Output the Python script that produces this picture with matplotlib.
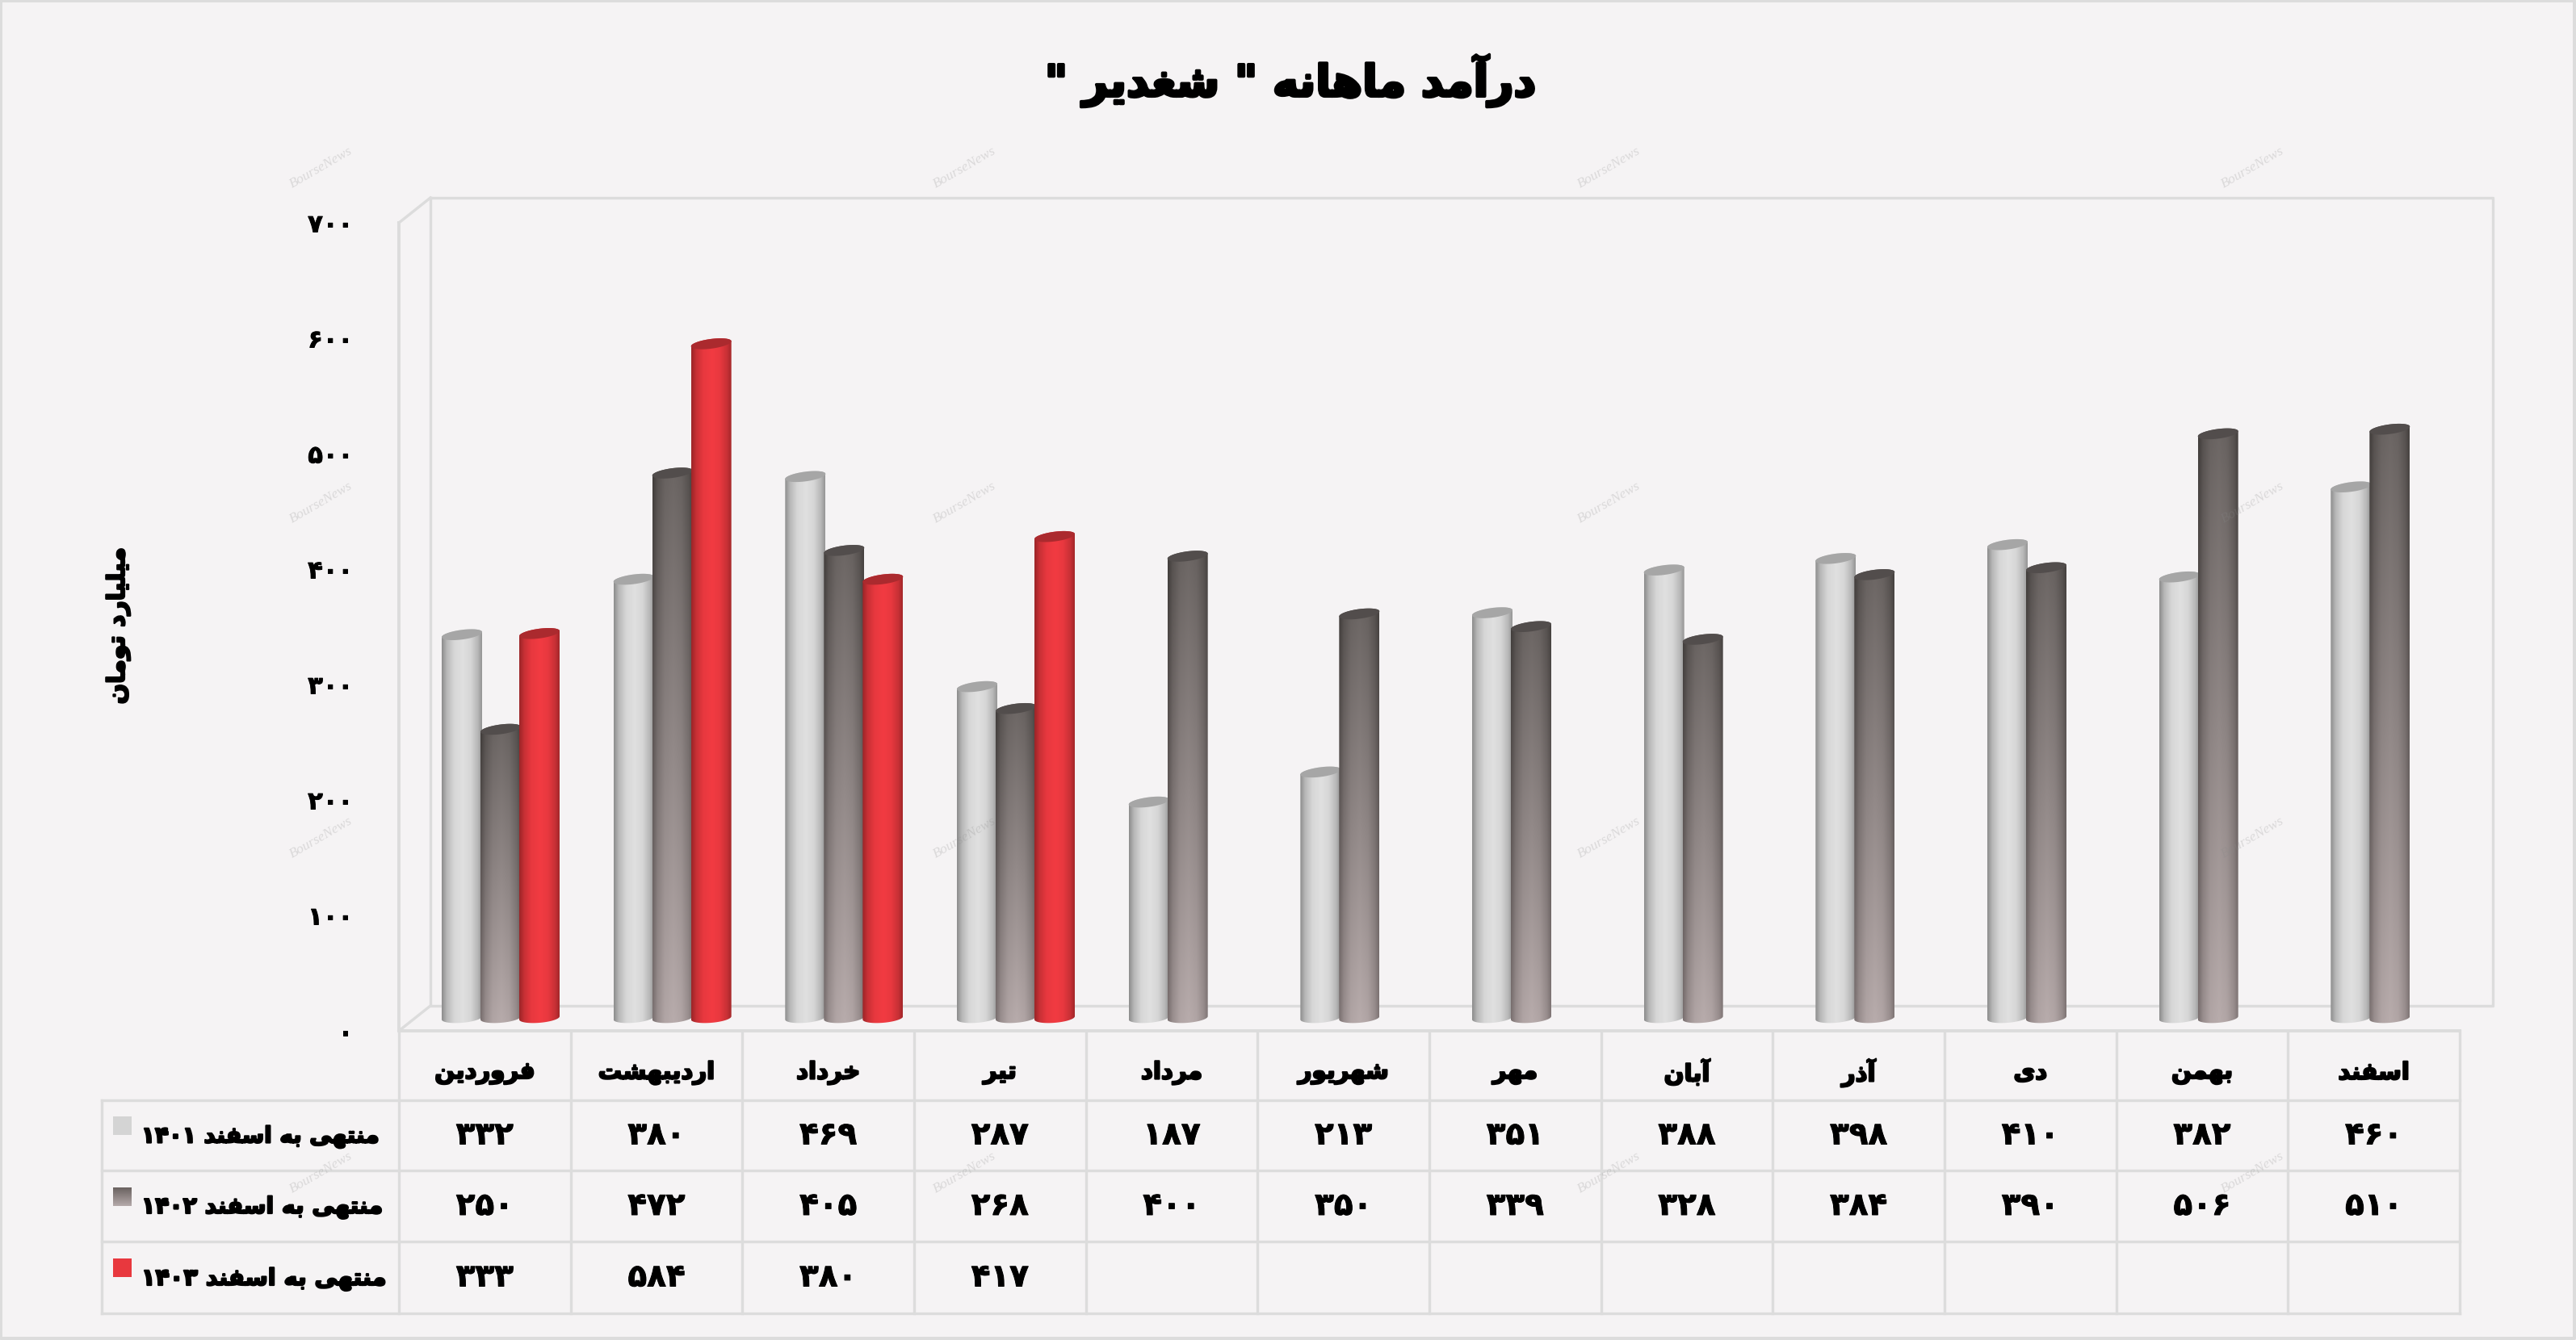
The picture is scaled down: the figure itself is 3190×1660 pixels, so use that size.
import numpy as np
import matplotlib
matplotlib.use("Agg")
import matplotlib.pyplot as plt
import matplotlib.patheffects as pe
from matplotlib.patches import PathPatch, Polygon
from matplotlib.path import Path

W, H = 3190, 1660
BG = "#f5f3f4"
LINE = "#dcdcdc"

months = ["فروردین", "اردیبهشت", "خرداد", "تیر", "مرداد", "شهریور",
          "مهر", "آبان", "آذر", "دی", "بهمن", "اسفند"]
series_names = ["منتهی به اسفند ۱۴۰۱", "منتهی به اسفند ۱۴۰۲", "منتهی به اسفند ۱۴۰۳"]
y1401 = [332, 380, 469, 287, 187, 213, 351, 388, 398, 410, 382, 460]
y1402 = [250, 472, 405, 268, 400, 350, 339, 328, 384, 390, 506, 510]
y1403 = [333, 584, 380, 417]
yticks = [0, 100, 200, 300, 400, 500, 600, 700]
title = 'درآمد ماهانه " شغدیر "'
ylabel = "میلیارد تومان"

# (isolated, final, initial, medial) - matplotlib has no arabic shaping
FORMS = {
    "ا": (0xFE8D, 0xFE8E), "آ": (0xFE81, 0xFE82),
    "ب": (0xFE8F, 0xFE90, 0xFE91, 0xFE92), "ت": (0xFE95, 0xFE96, 0xFE97, 0xFE98),
    "خ": (0xFEA5, 0xFEA6, 0xFEA7, 0xFEA8), "د": (0xFEA9, 0xFEAA),
    "ذ": (0xFEAB, 0xFEAC), "ر": (0xFEAD, 0xFEAE),
    "س": (0xFEB1, 0xFEB2, 0xFEB3, 0xFEB4), "ش": (0xFEB5, 0xFEB6, 0xFEB7, 0xFEB8),
    "غ": (0xFECD, 0xFECE, 0xFECF, 0xFED0), "ف": (0xFED1, 0xFED2, 0xFED3, 0xFED4),
    "ل": (0xFEDD, 0xFEDE, 0xFEDF, 0xFEE0), "م": (0xFEE1, 0xFEE2, 0xFEE3, 0xFEE4),
    "ن": (0xFEE5, 0xFEE6, 0xFEE7, 0xFEE8), "ه": (0xFEE9, 0xFEEA, 0xFEEB, 0xFEEC),
    "و": (0xFEED, 0xFEEE), "ی": (0xFBFC, 0xFBFD, 0xFBFE, 0xFBFF),
}
DIGITS = "۰۱۲۳۴۵۶۷۸۹"


def fa(text):
    # logical persian -> presentation forms in visual order
    out = []
    for i, c in enumerate(text):
        if c not in FORMS:
            out.append(c)
            continue
        prev = text[i - 1] if i > 0 else ""
        nxt = text[i + 1] if i + 1 < len(text) else ""
        join_prev = prev in FORMS and len(FORMS[prev]) == 4
        join_next = nxt in FORMS and len(FORMS[c]) == 4
        f = FORMS[c]
        if join_prev and join_next:
            out.append(chr(f[3]))
        elif join_prev:
            out.append(chr(f[1]))
        elif join_next:
            out.append(chr(f[2]))
        else:
            out.append(chr(f[0]))
    s = "".join(out)[::-1]
    # digit runs keep their order
    res, run = [], []
    for c in s:
        if c in DIGITS:
            run.append(c)
        else:
            res.extend(run[::-1])
            run = []
            res.append(c)
    res.extend(run[::-1])
    return "".join(res)


def fa_num(n):
    return "".join(DIGITS[int(d)] for d in str(n))


plt.rcParams["font.family"] = ["DejaVu Sans"]
plt.rcParams["font.weight"] = "bold"
fat = [pe.withStroke(linewidth=1.6, foreground="black")]
# digits clog up with a heavy stroke, 3 and 4 turn into the same blob
fat_num = [pe.withStroke(linewidth=0.7, foreground="black")]

fig = plt.figure(figsize=(W / 100, H / 100), dpi=100, facecolor=BG)


def px_axes(x0, y_top, x1, y_bottom):
    return fig.add_axes([x0 / W, 1 - y_bottom / H, (x1 - x0) / W, (y_bottom - y_top) / H])


# overlay in pixel coords for frame, table, text
bg = px_axes(0, 0, W, H)
bg.set_xlim(0, W)
bg.set_ylim(H, 0)
bg.axis("off")


def seg(xs, ys, lw=3.4):
    bg.plot(xs, ys, color=LINE, lw=lw * 0.72, solid_capstyle="projecting", zorder=1)


# outer border
seg([1, W - 2, W - 2, 1, 1], [1, 1, H - 2, H - 2, 1], 4)

# 3d box
left, right = 494, 3046
bx0, bx1, by0, by1 = 533, 3087, 245, 1246
seg([bx0, bx1, bx1, bx0, bx0], [by0, by0, by1, by1, by0])
seg([left, left], [276, 1277], 4)
seg([left, bx0], [276, by0])
seg([left, bx0], [1277, by1])

# table
col_w = (right - left) / 12
rows = [1277, 1363, 1450, 1538, 1627]
seg([left, right], [1277, 1277], 4)
for r in rows[1:]:
    seg([126, right], [r, r])
seg([126, 126], [1363, 1627])
for i in range(13):
    seg([left + i * col_w] * 2, [1277, 1627])

# bars axis, value 0 is at y=1261, 1.43 px per unit
PX = 1.43
ymin, ymax = -30, 720
ax = px_axes(left, 1261 - ymax * PX, right, 1261 - ymin * PX)
ax.patch.set_alpha(0)
ax.axis("off")

slot = 48 / col_w
bar_w = 50 / col_w
first = (572 - left) / col_w
b, tilt = 4.2, 2.2

styles = [
    {"top": ((0x8e, 0x8e, 0x8e), (0xe0, 0xe0, 0xe0)), "bot": ((0x8e, 0x8e, 0x8e), (0xe0, 0xe0, 0xe0)), "cap": "#a6a6a6"},
    {"top": ((0x40, 0x3c, 0x3a), (0x6c, 0x66, 0x64)), "bot": ((0x7a, 0x70, 0x70), (0xb8, 0xac, 0xac)), "cap": "#524d4c"},
    {"top": ((0x9c, 0x25, 0x28), (0xf2, 0x3b, 0x42)), "bot": ((0x9c, 0x25, 0x28), (0xf2, 0x3b, 0x42)), "cap": "#ab2a2e"},
]


def cylinder(xc, val, st, z):
    a = bar_w / 2
    t = np.linspace(0, np.pi, 40)
    # top half of the top ellipse, bottom half of the foot, tilted up to the right
    top_x, top_y = xc + a * np.cos(t), val + b * np.sin(t) + tilt * np.cos(t)
    foot_x, foot_y = xc + a * np.cos(t[::-1]), -b * np.sin(t[::-1]) + 1.4 * np.cos(t[::-1])
    verts = np.r_[np.c_[top_x, top_y], np.c_[foot_x, foot_y], [[top_x[0], top_y[0]]]]
    clip = PathPatch(Path(verts), transform=ax.transData, fc="none", ec="none")
    ax.add_patch(clip)
    # horizontal shading of the cylinder, vertical fade along the bar
    u = np.linspace(0, 1, 60)
    shade = np.interp(u, [0, 0.12, 0.3, 0.52, 0.72, 0.9, 1], [0, 0.5, 0.88, 1, 0.88, 0.5, 0.1])
    v = np.linspace(0, 1, 64)[:, None, None]
    edge_t, mid_t = np.array(st["top"]), np.array(st["bot"])
    top_row = edge_t[0] + (edge_t[1] - edge_t[0]) * shade[:, None]
    bot_row = mid_t[0] + (mid_t[1] - mid_t[0]) * shade[:, None]
    img = (top_row[None, :, :] * (1 - v) + bot_row[None, :, :] * v) / 255
    im = ax.imshow(img, extent=(xc - a, xc + a, -8, val + 6), aspect="auto",
                   origin="upper", zorder=z, interpolation="bilinear")
    im.set_clip_path(clip)
    t2 = np.linspace(0, 2 * np.pi, 60)
    ax.add_patch(Polygon(np.c_[xc + a * np.cos(t2), val + b * np.sin(t2) + tilt * np.cos(t2)],
                         closed=True, fc=st["cap"], ec="none", zorder=z + 0.5))


for s, vals in enumerate([y1401, y1402, y1403]):
    for i, val in enumerate(vals):
        cylinder(i + first + s * slot, val, styles[s], 3 + s)

ax.set_xlim(0, 12)
ax.set_ylim(ymin, ymax)

# value axis sits on the front edge of the box
yax = px_axes(left, 276, right, 1277)
yax.patch.set_alpha(0)
yax.set_ylim(0, 700)
yax.set_xticks([])
for sp in yax.spines.values():
    sp.set_visible(False)
yax.set_yticks(yticks)
yax.set_yticklabels([fa_num(t) for t in yticks], fontsize=22, fontweight="bold", path_effects=fat_num)
yax.tick_params(axis="y", length=0, pad=41)

# title and axis label
bg.text(1598, 100, fa(title), fontsize=39, ha="center", va="center",
        path_effects=[pe.withStroke(linewidth=2.6, foreground="black")], zorder=6)
bg.text(146, 775, fa(ylabel), fontsize=21.5, rotation=90, ha="center", va="center",
        path_effects=fat, zorder=6)

# table text
for i, m in enumerate(months):
    bg.text(left + (i + 0.5) * col_w, 1329, fa(m), fontsize=21, ha="center", va="center",
            path_effects=fat, zorder=6)

for s, vals in enumerate([y1401, y1402, y1403]):
    yc = (rows[s + 1] + rows[s + 2]) / 2
    for i, val in enumerate(vals):
        bg.text(left + (i + 0.5) * col_w, yc, fa_num(val), fontsize=28, ha="center",
                va="center", path_effects=fat_num, zorder=6)
    bg.text(175, yc + 2, fa(series_names[s]), fontsize=20 + 0.3 * s, ha="left", va="center",
            path_effects=fat, zorder=6)

# legend swatches
sw = px_axes(140, 1383, 163, 1406)
sw.set_facecolor("#d4d4d4")
sw2 = px_axes(140, 1471, 163, 1494)
sw2.imshow(np.linspace(0, 1, 32)[:, None, None] * (np.array([0xb4, 0xa9, 0xa9]) - np.array([0x6a, 0x62, 0x60])) / 255
           + np.array([0x6a, 0x62, 0x60]) / 255, aspect="auto")
sw3 = px_axes(140, 1559, 163, 1582)
sw3.set_facecolor("#e8383e")
for a_ in (sw, sw2, sw3):
    a_.set_xticks([])
    a_.set_yticks([])
    for sp in a_.spines.values():
        sp.set_visible(False)

# watermark goes over everything
for wx in [398, 1195, 1993, 2790]:
    for wy in [208, 623, 1038, 1453]:
        fig.text(wx / W, 1 - wy / H, "BourseNews", family="Liberation Serif", style="italic",
                 weight="normal", fontsize=12.5, color="#8a8a8a", alpha=0.25, rotation=30,
                 ha="center", va="center", zorder=5)

fig.savefig("out.png", dpi=100, facecolor=BG)
